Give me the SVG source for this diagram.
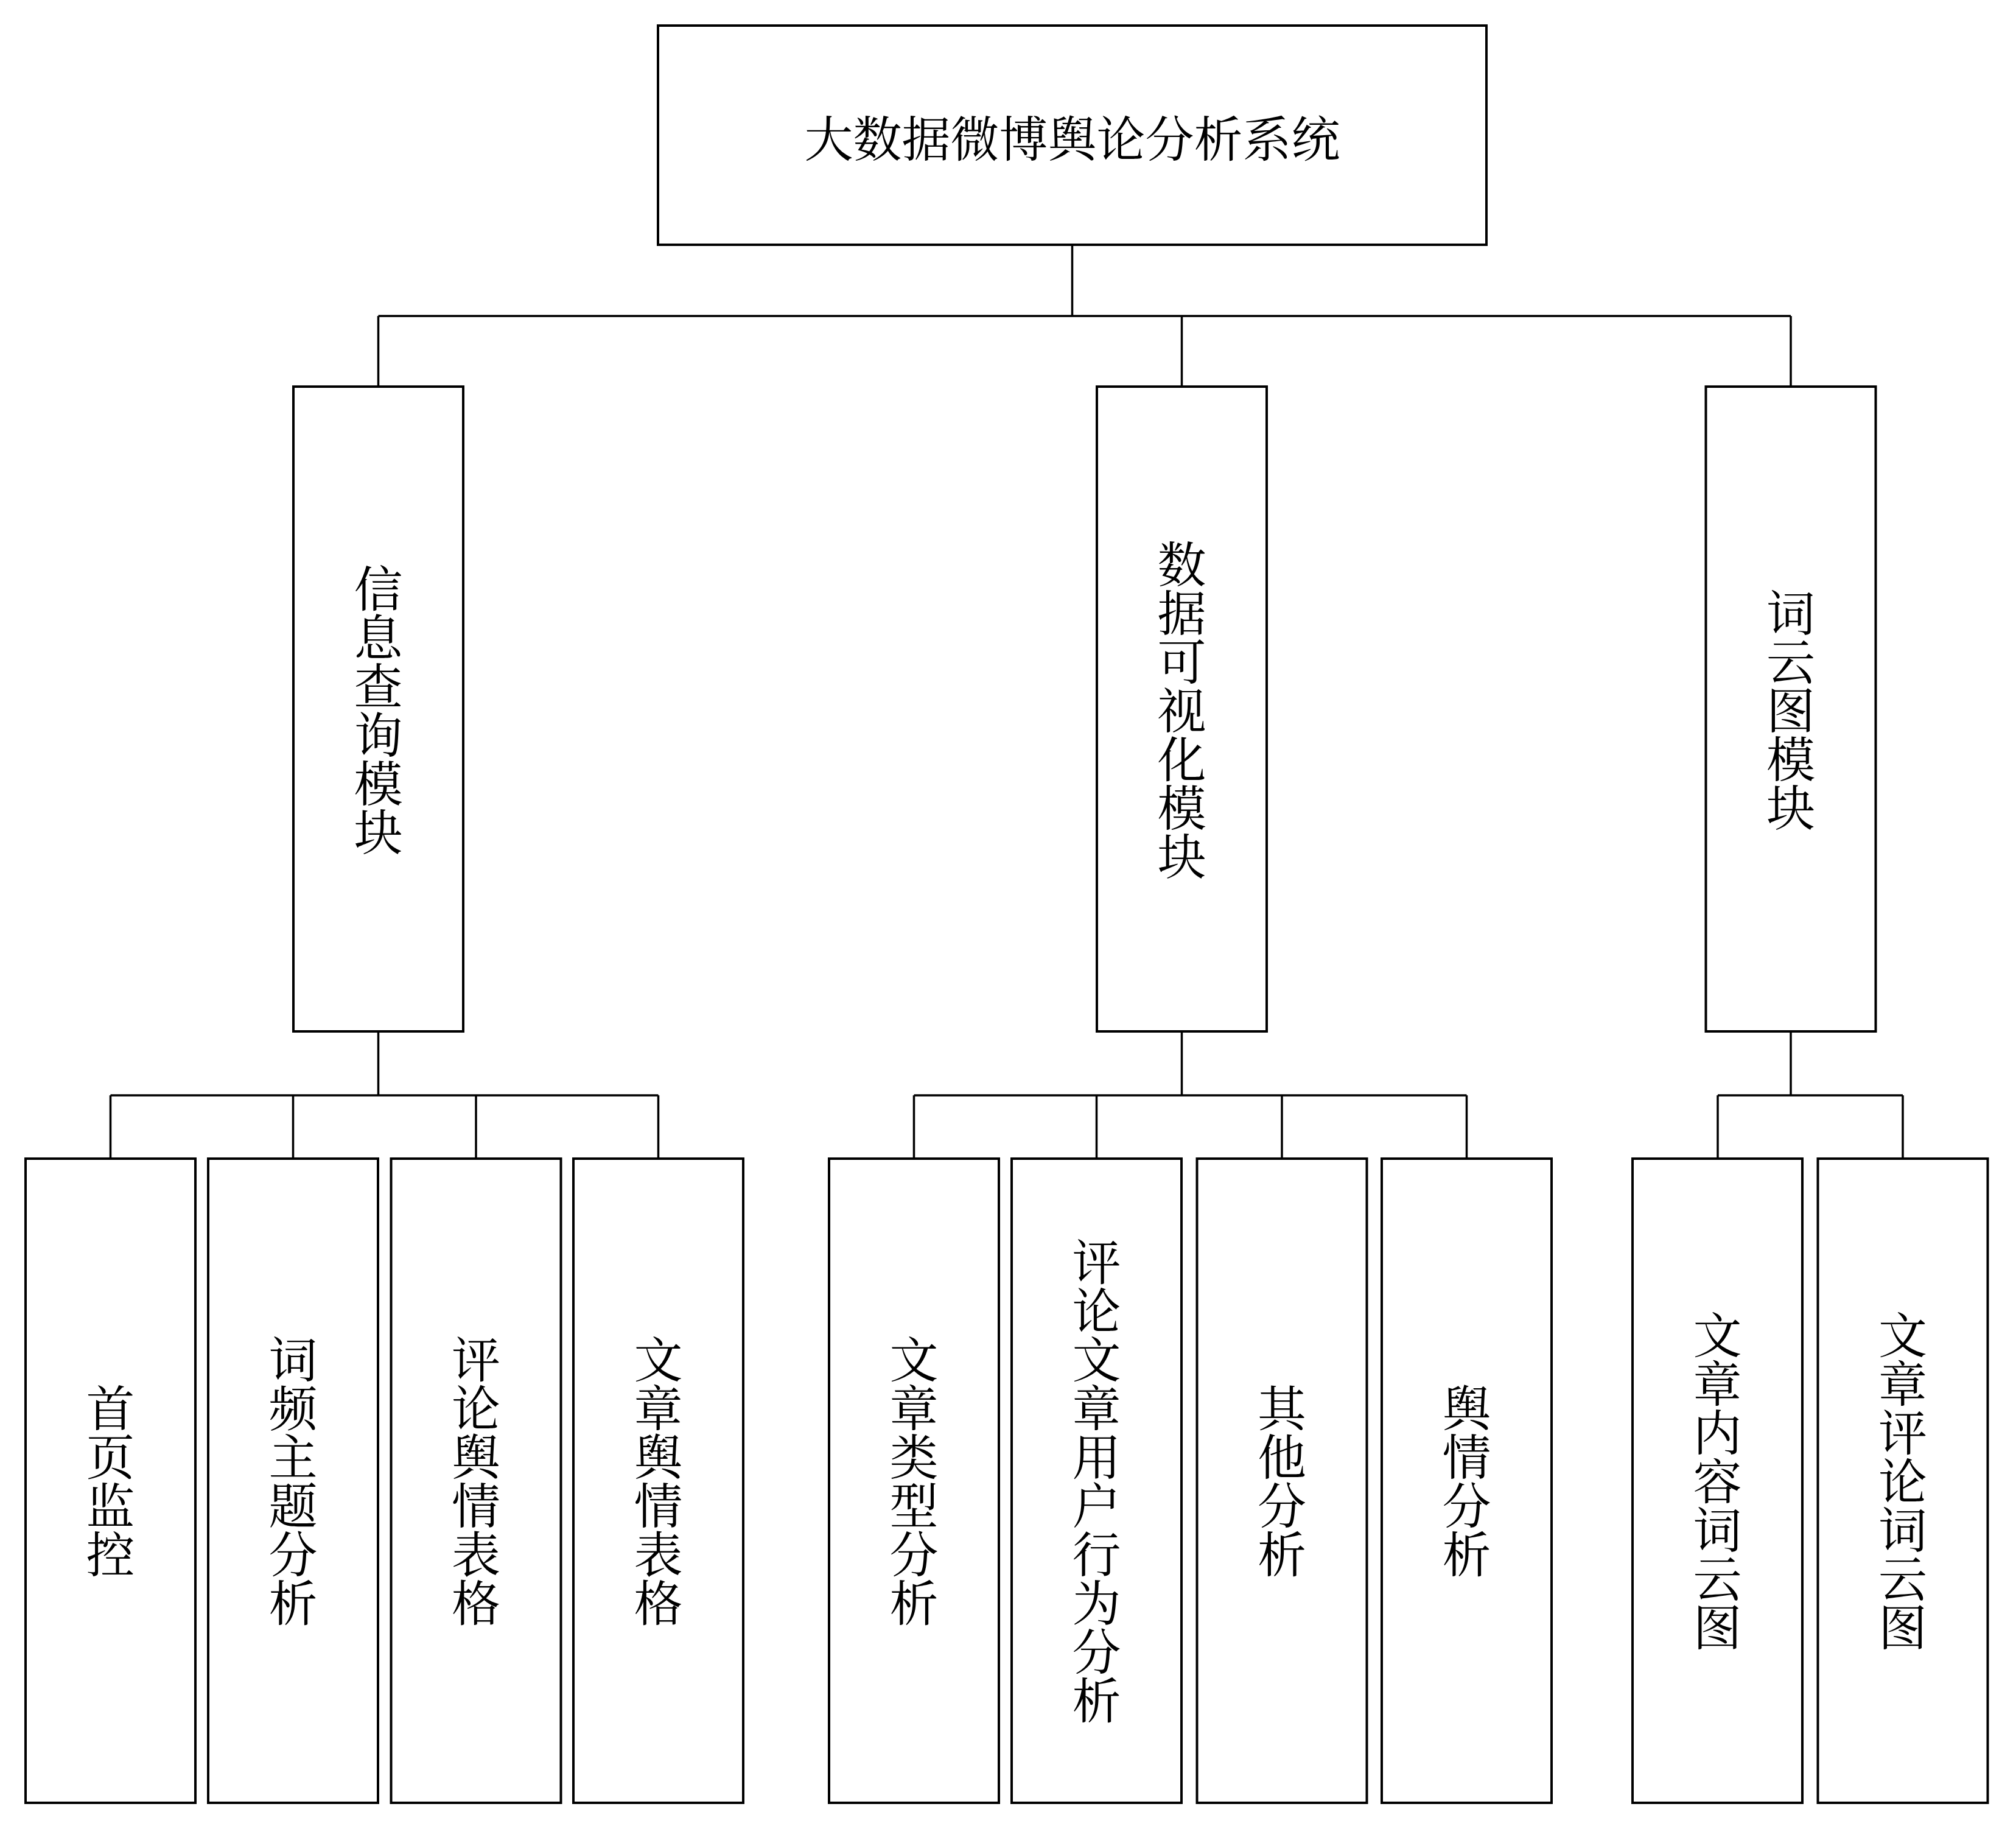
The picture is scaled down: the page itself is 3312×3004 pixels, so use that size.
<svg xmlns="http://www.w3.org/2000/svg" width="3312" height="3004" viewBox="0 0 3312 3004">
<style>
.box{fill:#fff;stroke:#000;stroke-width:4}
.ln{fill:none;stroke:#000;stroke-width:3.5}
.t{font-family:"Noto Serif CJK SC","Liberation Serif","Noto Sans CJK SC",serif;fill:#000;text-anchor:middle}
.tt{font-size:80px;dominant-baseline:central}
.vt{font-size:80px;writing-mode:vertical-rl}
</style>
<rect width="3312" height="3004" fill="#fff"/>
<g id="connectors">
<path class="ln" d="M1761.5 402V519M621.5 519H2942M621.5 519V635M1941.5 519V635M2942 519V635"/>
<path class="ln" d="M621.5 1694V1799M181.5 1799H1081.5M181.5 1799V1903M481.5 1799V1903M782 1799V1903M1081.5 1799V1903"/>
<path class="ln" d="M1941.5 1694V1799M1501.5 1799H2409.5M1501.5 1799V1903M1801.5 1799V1903M2106 1799V1903M2409.5 1799V1903"/>
<path class="ln" d="M2942 1694V1799M2822 1799H3126M2822 1799V1903M3126 1799V1903"/>
</g>
<g id="root">
<rect class="box" x="1081" y="42" width="1361" height="360"/>
<text class="t tt" x="1761.5" y="222">大数据微博舆论分析系统</text>
</g>
<g id="m1">
<rect class="box" x="482" y="635" width="279" height="1059"/>
<text class="t vt" x="621.5" y="1166">信息查询模块</text>
</g>
<g id="m2">
<rect class="box" x="1802" y="635" width="279" height="1059"/>
<text class="t vt" x="1941.5" y="1166">数据可视化模块</text>
</g>
<g id="m3">
<rect class="box" x="2802.5" y="635" width="279" height="1059"/>
<text class="t vt" x="2942" y="1166">词云图模块</text>
</g>
<g id="c1">
<rect class="box" x="42" y="1903" width="279" height="1058"/>
<text class="t vt" x="181.5" y="2432">首页监控</text>
</g>
<g id="c2">
<rect class="box" x="342" y="1903" width="279" height="1058"/>
<text class="t vt" x="481.5" y="2432">词频主题分析</text>
</g>
<g id="c3">
<rect class="box" x="642.5" y="1903" width="279" height="1058"/>
<text class="t vt" x="782" y="2432">评论舆情表格</text>
</g>
<g id="c4">
<rect class="box" x="942" y="1903" width="279" height="1058"/>
<text class="t vt" x="1081.5" y="2432">文章舆情表格</text>
</g>
<g id="c5">
<rect class="box" x="1362" y="1903" width="279" height="1058"/>
<text class="t vt" x="1501.5" y="2432">文章类型分析</text>
</g>
<g id="c6">
<rect class="box" x="1662" y="1903" width="279" height="1058"/>
<text class="t vt" x="1801.5" y="2432">评论文章用户行为分析</text>
</g>
<g id="c7">
<rect class="box" x="1966.5" y="1903" width="279" height="1058"/>
<text class="t vt" x="2106" y="2432">其他分析</text>
</g>
<g id="c8">
<rect class="box" x="2270" y="1903" width="279" height="1058"/>
<text class="t vt" x="2409.5" y="2432">舆情分析</text>
</g>
<g id="c9">
<rect class="box" x="2682" y="1903" width="279" height="1058"/>
<text class="t vt" x="2821.5" y="2432">文章内容词云图</text>
</g>
<g id="c10">
<rect class="box" x="2986.5" y="1903" width="279" height="1058"/>
<text class="t vt" x="3126" y="2432">文章评论词云图</text>
</g>
</svg>
